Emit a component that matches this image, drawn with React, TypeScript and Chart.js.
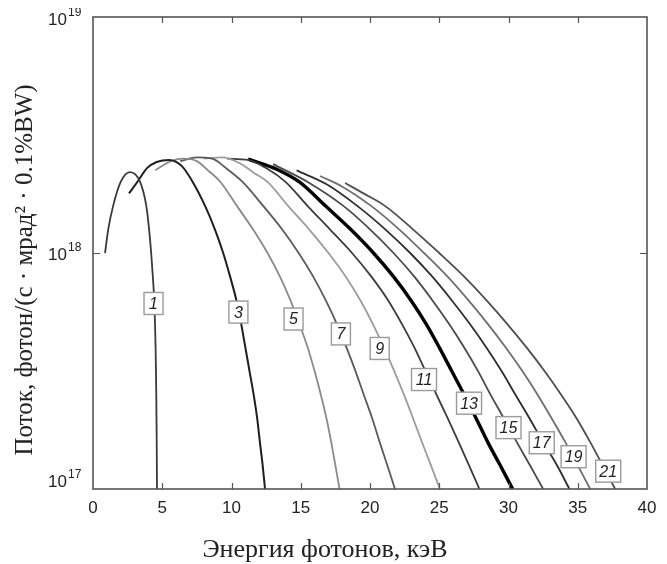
import React, { useEffect, useRef } from 'react';
import { Chart, registerables } from 'chart.js';

Chart.register(...registerables);

// ---- data (energy in keV, flux in photons/(s·mrad²·0.1%BW)) ----
const harmonics = [1, 3, 5, 7, 9, 11, 13, 15, 17, 19, 21];

const e1 = [0.87, 1.1, 1.45, 2.0, 2.67, 3.4, 3.85, 4.05, 4.2, 4.32, 4.42, 4.52, 4.57, 4.6, 4.62];
const f1 = [1.0e18, 1.26e18, 1.58e18, 2.0e18, 2.2e18, 2.0e18, 1.58e18, 1.26e18, 1.0e18, 7.94e17, 6.31e17, 3.98e17, 2.51e17, 1.58e17, 1.0e17];

const e3 = [2.6, 3.2, 3.9, 4.6, 5.5, 6.4, 7.2, 8.1, 8.8, 9.4, 9.9, 10.35, 10.7, 11.0, 11.3, 11.6, 11.85, 12.05, 12.25, 12.42];
const f3 = [1.79e18, 2.0e18, 2.29e18, 2.43e18, 2.48e18, 2.34e18, 2.0e18, 1.58e18, 1.26e18, 1.0e18, 7.94e17, 6.31e17, 5.01e17, 3.98e17, 3.16e17, 2.51e17, 2.0e17, 1.58e17, 1.26e17, 1.0e17];

const e5 = [4.5, 5.5, 6.5, 7.5, 8.3, 9.2, 10.4, 11.55, 12.6, 13.5, 14.25, 14.9, 15.5, 16.0, 16.45, 16.85, 17.2, 17.5, 17.8];
const f5 = [2.24e18, 2.43e18, 2.51e18, 2.45e18, 2.24e18, 2.0e18, 1.58e18, 1.26e18, 1.0e18, 7.94e17, 6.31e17, 5.01e17, 3.98e17, 3.16e17, 2.51e17, 2.0e17, 1.58e17, 1.26e17, 1.0e17];

const e7 = [6.3, 7.5, 8.6, 9.6, 10.8, 12.3, 13.65, 14.85, 15.9, 16.8, 17.6, 18.3, 18.95, 19.55, 20.15, 20.7, 21.25, 21.8];
const f7 = [2.45e18, 2.54e18, 2.51e18, 2.29e18, 2.0e18, 1.58e18, 1.26e18, 1.0e18, 7.94e17, 6.31e17, 5.01e17, 3.98e17, 3.16e17, 2.51e17, 2.0e17, 1.58e17, 1.26e17, 1.0e17];

const e9 = [8.0, 9.3, 10.6, 11.6, 12.6, 14.1, 15.6, 17.0, 18.25, 19.3, 20.2, 21.0, 21.75, 22.45, 23.1, 23.75, 24.4, 25.05];
const f9 = [2.51e18, 2.54e18, 2.4e18, 2.19e18, 2.0e18, 1.58e18, 1.26e18, 1.0e18, 7.94e17, 6.31e17, 5.01e17, 3.98e17, 3.16e17, 2.51e17, 2.0e17, 1.58e17, 1.26e17, 1.0e17];

const e11 = [9.7, 11.2, 12.5, 13.9, 15.5, 17.1, 18.7, 20.1, 21.3, 22.3, 23.2, 24.0, 24.8, 25.6, 26.4, 27.15, 27.9];
const f11 = [2.51e18, 2.48e18, 2.29e18, 2.0e18, 1.58e18, 1.26e18, 1.0e18, 7.94e17, 6.31e17, 5.01e17, 3.98e17, 3.16e17, 2.51e17, 2.0e17, 1.58e17, 1.26e17, 1.0e17];

const e13 = [11.2, 13.3, 14.9, 16.8, 18.6, 20.25, 21.7, 22.95, 24.05, 25.0, 25.9, 26.8, 27.65, 28.5, 29.4, 30.3];
const f13 = [2.5e18, 2.26e18, 2.0e18, 1.58e18, 1.26e18, 1.0e18, 7.94e17, 6.31e17, 5.01e17, 3.98e17, 3.16e17, 2.51e17, 2.0e17, 1.58e17, 1.26e17, 1.0e17];

const e15 = [13.0, 15.5, 18.1, 20.0, 21.7, 23.2, 24.5, 25.7, 26.8, 27.8, 28.7, 29.65, 30.6, 31.55, 32.5];
const f15 = [2.38e18, 2.0e18, 1.58e18, 1.26e18, 1.0e18, 7.94e17, 6.31e17, 5.01e17, 3.98e17, 3.16e17, 2.51e17, 2.0e17, 1.58e17, 1.26e17, 1.0e17];

const e17 = [14.7, 16.9, 19.1, 21.1, 22.9, 24.5, 25.9, 27.2, 28.4, 29.5, 30.5, 31.5, 32.5, 33.5, 34.4];
const f17 = [2.24e18, 1.95e18, 1.58e18, 1.26e18, 1.0e18, 7.94e17, 6.31e17, 5.01e17, 3.98e17, 3.16e17, 2.51e17, 2.0e17, 1.58e17, 1.26e17, 1.0e17];

const e19 = [16.4, 18.0, 20.1, 22.1, 23.9, 25.6, 27.1, 28.5, 29.8, 31.0, 32.1, 33.1, 34.1, 35.0, 35.9];
const f19 = [2.12e18, 1.91e18, 1.58e18, 1.26e18, 1.0e18, 7.94e17, 6.31e17, 5.01e17, 3.98e17, 3.16e17, 2.51e17, 2.0e17, 1.58e17, 1.26e17, 1.0e17];

const e21 = [18.2, 19.6, 21.1, 23.1, 25.0, 26.8, 28.4, 29.9, 31.3, 32.6, 33.8, 34.9, 35.9, 36.8, 37.7];
const f21 = [1.98e18, 1.78e18, 1.58e18, 1.26e18, 1.0e18, 7.94e17, 6.31e17, 5.01e17, 3.98e17, 3.16e17, 2.51e17, 2.0e17, 1.58e17, 1.26e17, 1.0e17];

const energies = [e1, e3, e5, e7, e9, e11, e13, e15, e17, e19, e21];
const fluxes = [f1, f3, f5, f7, f9, f11, f13, f15, f17, f19, f21];

// curve-label anchors (data coordinates)
const labelEnergy = [4.37, 10.5, 14.48, 17.9, 20.7, 23.9, 27.15, 30.0, 32.4, 34.7, 37.2];
const labelFlux = [6.11e17, 5.62e17, 5.25e17, 4.54e17, 3.94e17, 2.91e17, 2.31e17, 1.82e17, 1.57e17, 1.37e17, 1.19e17];

// axis ticks
const xTickValues = [0, 5, 10, 15, 20, 25, 30, 35, 40];
const yTickExponents = [17, 18, 19];

const xTitle = 'Энергия фотонов, кэВ';
const yTitle = 'Поток, фотон/(с · мрад² · 0.1%BW)';

// ---- styles ----
const curveColors = ['#3a3a3a', '#1e1e1e', '#8a8a8a', '#5a5a5a', '#9c9c9c', '#3c3c3c', '#000000', '#4a4a4a', '#2e2e2e', '#6e6e6e', '#4e4e4e'];
const curveWidths = [1.8, 2, 1.8, 1.8, 1.8, 1.8, 3.4, 1.8, 1.8, 1.8, 1.8];

const SANS = '"Liberation Sans", Arial, sans-serif';
const SERIF = '"Liberation Serif", "Times New Roman", serif';

const decorPlugin = {
  id: 'decor',
  afterDatasetsDraw(chart: any) {
    const { ctx, chartArea, scales } = chart;
    const xs = scales.x;
    const ys = scales.y;
    const { left, right, top, bottom } = chartArea;
    ctx.save();

    // curve labels
    ctx.font = 'italic 16px ' + SANS;
    ctx.textAlign = 'center';
    ctx.textBaseline = 'middle';
    harmonics.forEach((n, i) => {
      const cx = xs.getPixelForValue(labelEnergy[i]);
      const cy = ys.getPixelForValue(labelFlux[i]);
      const txt = String(n);
      const w = txt.length > 1 ? 25 : 19;
      const h = 22;
      ctx.fillStyle = '#ffffff';
      ctx.fillRect(cx - w / 2, cy - h / 2, w, h);
      ctx.strokeStyle = '#9a9a9a';
      ctx.lineWidth = 1.4;
      ctx.strokeRect(cx - w / 2, cy - h / 2, w, h);
      ctx.fillStyle = '#222';
      ctx.fillText(txt, cx, cy + 1);
    });

    // frame
    ctx.strokeStyle = '#555';
    ctx.lineWidth = 1.6;
    ctx.strokeRect(left, top, right - left, bottom - top);

    // ticks
    ctx.lineWidth = 1.2;
    ctx.beginPath();
    xTickValues.forEach((v) => {
      if (v <= 0 || v >= 40) return;
      const px = Math.round(xs.getPixelForValue(v)) + 0.5;
      ctx.moveTo(px, bottom);
      ctx.lineTo(px, bottom - 6);
      ctx.moveTo(px, top);
      ctx.lineTo(px, top + 6);
    });
    yTickExponents.forEach((ex) => {
      const py = ys.getPixelForValue(Math.pow(10, ex));
      if (py <= top + 1 || py >= bottom - 1) return;
      const y = Math.round(py) + 0.5;
      ctx.moveTo(left, y);
      ctx.lineTo(left + 7, y);
      ctx.moveTo(right, y);
      ctx.lineTo(right - 7, y);
    });
    ctx.stroke();

    // x tick labels
    ctx.fillStyle = '#222';
    ctx.font = '17px ' + SANS;
    ctx.textAlign = 'center';
    ctx.textBaseline = 'alphabetic';
    xTickValues.forEach((v) => {
      ctx.fillText(String(v), xs.getPixelForValue(v), bottom + 24);
    });

    // y tick labels 10^n
    yTickExponents.forEach((ex) => {
      const py = ys.getPixelForValue(Math.pow(10, ex));
      const base = Math.min(Math.max(py + 7, top + 8), bottom - 2);
      ctx.font = '17px ' + SANS;
      ctx.textAlign = 'right';
      ctx.fillText('10', left - 26, base);
      ctx.font = '12px ' + SANS;
      ctx.textAlign = 'left';
      ctx.fillText(String(ex), left - 25, base - 9);
    });

    // axis titles
    ctx.textAlign = 'center';
    ctx.textBaseline = 'alphabetic';
    ctx.font = '26px ' + SERIF;
    ctx.fillText(xTitle, 317, bottom + 68);

    ctx.font = '25px ' + SERIF;
    ctx.translate(24, 262);
    ctx.rotate(-Math.PI / 2);
    ctx.fillText(yTitle, 0, 0);
    ctx.restore();
  },
};

export default function App() {
  const ref = useRef<HTMLCanvasElement>(null);
  useEffect(() => {
    if (!ref.current) return;
    const datasets = harmonics.map((n, i) => ({
      label: String(n),
      data: energies[i].map((x, j) => ({ x, y: fluxes[i][j] })),
      borderColor: curveColors[i],
      borderWidth: curveWidths[i],
      pointRadius: 0,
      showLine: true,
      fill: false,
      cubicInterpolationMode: 'monotone' as const,
    }));
    const chart = new Chart(ref.current, {
      type: 'scatter',
      data: { datasets },
      options: {
        animation: false,
        responsive: false,
        events: [],
        layout: { padding: { left: 85, top: 9, right: 12, bottom: 75 } },
        plugins: { legend: { display: false }, tooltip: { enabled: false } },
        scales: {
          x: { type: 'linear', min: 0, max: 40, display: false },
          y: { type: 'logarithmic', min: 1e17, max: 1e19, display: false },
        },
      },
      plugins: [decorPlugin],
    });
    return () => chart.destroy();
  }, []);
  return (
    <div style={{ width: 651, height: 556 }}>
      <canvas ref={ref} width={651} height={556} style={{ display: 'block' }} />
    </div>
  );
}
